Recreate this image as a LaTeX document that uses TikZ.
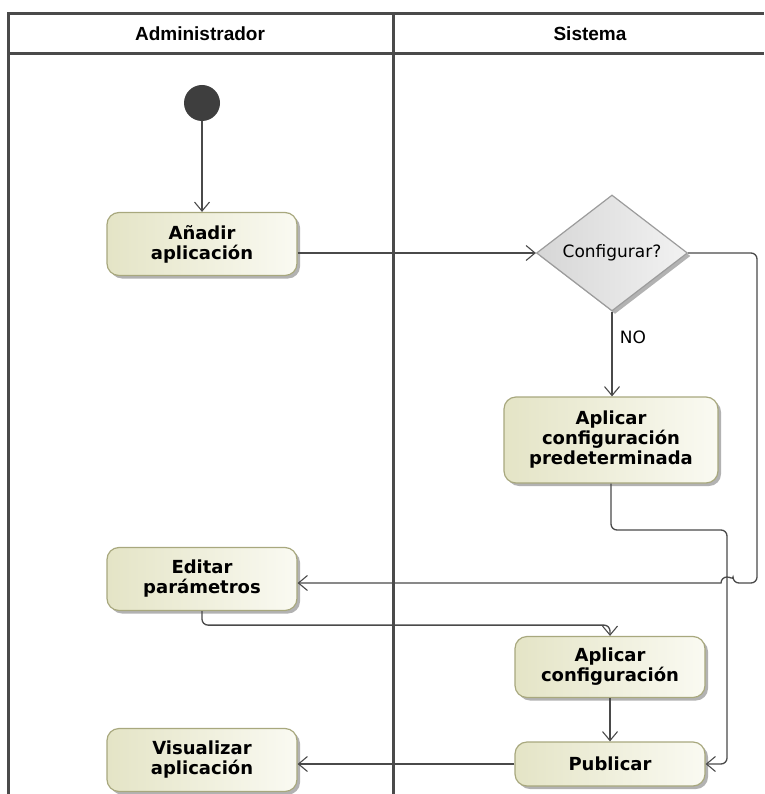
\documentclass[tikz,border=0pt]{standalone}
\usepackage{fontspec}
\setmainfont{DejaVu Sans}
\newfontfamily\lanefont{Liberation Sans}
\usetikzlibrary{shapes.geometric, arrows.meta, shadows}

\definecolor{laneline}{HTML}{4A4A4A}
\definecolor{flowline}{HTML}{4A4A4A}
\definecolor{actdraw}{HTML}{A8A87E}
\definecolor{actdark}{HTML}{E4E4C6}
\definecolor{actlight}{HTML}{FAFAF2}
\definecolor{decdraw}{HTML}{9C9C9C}
\definecolor{decdark}{HTML}{D6D6D6}
\definecolor{declight}{HTML}{F2F2F2}
\definecolor{startfill}{HTML}{3E3E3E}

\begin{document}
\begin{tikzpicture}[x=1pt, y=-1pt,
					lane/.style={draw=laneline, line width=3pt},
					lanetitle/.style={font=\lanefont\bfseries\fontsize{19}{22}\selectfont},
					action/.style={rectangle, rounded corners=12pt, draw=actdraw, line width=1.2pt, left color=actdark, right color=actlight, minimum width=190pt, minimum height=63pt, inner sep=0pt, align=center, font=\bfseries\fontsize{18}{20}\selectfont, drop shadow={shadow xshift=3pt, shadow yshift=-3pt, opacity=0.3, fill=black}},
					decision/.style={diamond, draw=decdraw, line width=1.2pt, left color=decdark, right color=declight, minimum width=151pt, minimum height=116pt, inner sep=0pt, font=\fontsize{17}{20}\selectfont, drop shadow={shadow xshift=3pt, shadow yshift=-3pt, opacity=0.3, fill=black}},
					start/.style={circle, fill=startfill, minimum size=36pt, inner sep=0pt},
					flow/.style={draw=flowline, line width=1.3pt, rounded corners=6pt, -{Straight Barb[length=9pt, width=15pt, line width=1.1pt]}}
					]
					\useasboundingbox (0,0) rectangle (764,794);
					
					% swimlanes
					\draw [lane] (8,794) -- (8,14) -- (764,14);
					\draw [lane] (8,54) -- (764,54);
					\draw [lane] (393,14) -- (393,794);
					\node (admin) [lanetitle] at (200,34) {Administrador};
					\node (sistema) [lanetitle] at (590,34) {Sistema};
					
					% Administrador
					\node (ini) [start] at (202,103) {};
					\node (anadir) [action] at (202,244) {Añadir\\aplicación};
					\node (editar) [action] at (202,579) {Editar\\parámetros};
					\node (visual) [action] at (202,760) {Visualizar\\aplicación};
					
					% Sistema
					\node (conf) [decision] at (612,253) {Configurar?};
					\node (pred) [action, minimum width=214pt, minimum height=86pt] at (611,440) {Aplicar\\configuración\\predeterminada};
					\node (aplconf) [action, minimum height=61pt] at (610,667) {Aplicar\\configuración};
					\node (publicar) [action, minimum height=44pt] at (610,764) {Publicar};
					
					\coordinate (loop) at (757,583);
					\coordinate (bend) at (727,530);
					
					\draw [flow] (ini) -- (anadir.north);
					\draw [flow] (anadir.east |- conf.west) -- (conf.west);
					\draw [flow] (conf.south) -- node [pos=0.3, right, xshift=4pt, font=\fontsize{17}{20}\selectfont] {NO} (conf.south |- pred.north);
					\draw [flow] (conf.east) -| (loop) -- (733,583) [sharp corners] arc [start angle=0, end angle=-180, radius=6] -- (editar.east |- loop);
					\draw [flow] (pred.south) |- (bend) |- (publicar.east);
					\draw [flow] (editar.south) -- ++(0,14) -| (aplconf.north);
					\draw [flow] (aplconf.south) -- (publicar.north);
					\draw [flow] (publicar.west) -- (visual.east |- publicar.west);
				\end{tikzpicture}
\end{document}
